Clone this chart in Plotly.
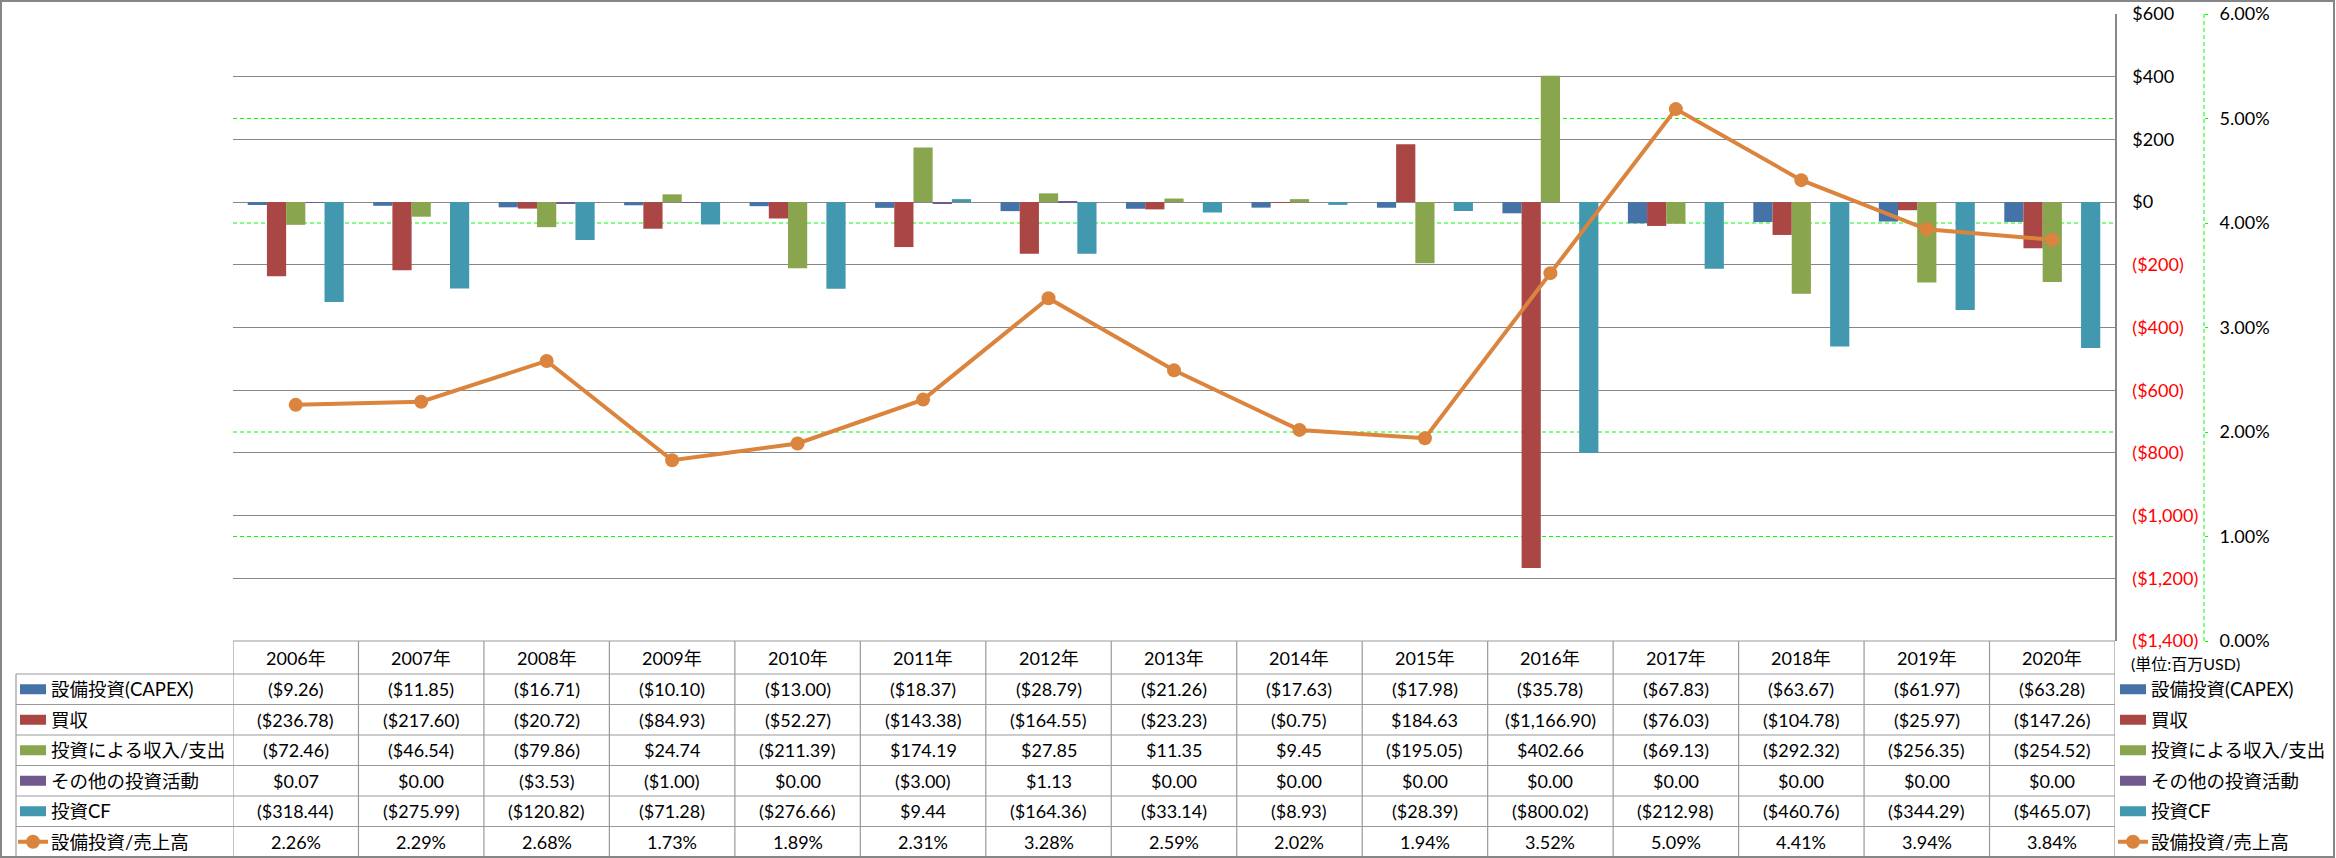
import plotly.graph_objects as go

years = ["2006年", "2007年", "2008年", "2009年", "2010年", "2011年", "2012年", "2013年",
         "2014年", "2015年", "2016年", "2017年", "2018年", "2019年", "2020年"]
capex = [-9.26, -11.85, -16.71, -10.10, -13.00, -18.37, -28.79, -21.26,
         -17.63, -17.98, -35.78, -67.83, -63.67, -61.97, -63.28]
acquisitions = [-236.78, -217.60, -20.72, -84.93, -52.27, -143.38, -164.55, -23.23,
                -0.75, 184.63, -1166.90, -76.03, -104.78, -25.97, -147.26]
invest_income = [-72.46, -46.54, -79.86, 24.74, -211.39, 174.19, 27.85, 11.35,
                 9.45, -195.05, 402.66, -69.13, -292.32, -256.35, -254.52]
other_invest = [0.07, 0.00, -3.53, -1.00, 0.00, -3.00, 1.13, 0.00,
                0.00, 0.00, 0.00, 0.00, 0.00, 0.00, 0.00]
invest_cf = [-318.44, -275.99, -120.82, -71.28, -276.66, 9.44, -164.36, -33.14,
             -8.93, -28.39, -800.02, -212.98, -460.76, -344.29, -465.07]
capex_ratio = [2.26, 2.29, 2.68, 1.73, 1.89, 2.31, 3.28, 2.59,
               2.02, 1.94, 3.52, 5.09, 4.41, 3.94, 3.84]  # percent

bar_names = ["設備投資(CAPEX)", "買収", "投資による収入/支出", "その他の投資活動", "投資CF"]
line_name = "設備投資/売上高"
unit_label = "(単位:百万USD)"
usd_ticks = list(range(-1400, 601, 200))

FONT = "Lato, 'Noto Sans CJK JP', sans-serif"
colors = ["#4572A7", "#AA4643", "#89A54E", "#71588F", "#4198AF"]
orange = "#DB843D"
grid_gray = "#878787"
line_gray = "#9a9a9a"

W, H = 2336, 858
L, R, T, B = 233, 2204, 14, 641   # paper area (y2 axis sits at the right edge)
PLOT_R = 2115                     # end of the bar area / primary axis


def xp(px):
    return (px - L) / (R - L)


def yp(py):
    return (B - py) / (B - T)


def money(v):
    s = f"${abs(v):,.2f}"
    return f"({s})" if v < 0 else s


def usd_tick(v):
    if v < 0:
        return f"<span style='color:#FF0000'>(${-v:,})</span>"
    return f"${v:,}"


series = [capex, acquisitions, invest_income, other_invest, invest_cf]

fig = go.Figure()
for name, vals, col in zip(bar_names, series, colors):
    fig.add_trace(go.Bar(x=years, y=vals, name=name, marker=dict(color=col, line_width=0)))

fig.add_trace(go.Scatter(
    x=years, y=[v / 100 for v in capex_ratio], name=line_name, yaxis="y2",
    mode="lines+markers", line=dict(color=orange, width=4),
    marker=dict(color=orange, size=14),
))

shapes = []
annotations = []

# secondary axis: dashed green axis line and dashed gridlines
shapes.append(dict(type="line", xref="paper", yref="paper", x0=1, x1=1, y0=0, y1=1,
                   line=dict(color="#00FF00", width=1, dash="4px,3px")))
for v in [0.01, 0.02, 0.04, 0.05]:
    shapes.append(dict(type="line", xref="paper", yref="y2", x0=0, x1=xp(PLOT_R), y0=v, y1=v,
                       layer="below", line=dict(color="#00FF00", width=1.2, dash="4px,3px")))

# data table
row_lines = [674, 704.5, 735, 765.5, 796, 826.5, 857]
row_centers = [(a + b) / 2 for a, b in zip(row_lines[:-1], row_lines[1:])]
header_center = (B + row_lines[0]) / 2

shapes.append(dict(type="line", xref="paper", yref="paper", x0=0, x1=xp(PLOT_R),
                   y0=yp(B), y1=yp(B), line=dict(color=line_gray, width=1.2)))
for y in row_lines:
    shapes.append(dict(type="line", xref="paper", yref="paper", x0=xp(16), x1=xp(PLOT_R),
                       y0=yp(y), y1=yp(y), line=dict(color=line_gray, width=1.2)))
for i in range(len(years) + 1):
    shapes.append(dict(type="line", xref="x", yref="paper", x0=i - 0.5, x1=i - 0.5,
                       y0=yp(B), y1=yp(857), line=dict(color=line_gray, width=1.2)))
shapes.append(dict(type="line", xref="paper", yref="paper", x0=xp(16), x1=xp(16),
                   y0=yp(674), y1=yp(857), line=dict(color=line_gray, width=1.2)))


def cell(x, xref, yc, text, size, xanchor="center"):
    annotations.append(dict(x=x, xref=xref, y=yp(yc), yref="paper", text=text,
                            xanchor=xanchor, yanchor="middle", showarrow=False,
                            font=dict(size=size)))


for yr in years:
    cell(yr, "x", header_center, yr, 18)

table_rows = [[money(v) for v in s] for s in series] + [[f"{v:.2f}%" for v in capex_ratio]]
for row, yc in zip(table_rows, row_centers):
    for yr, txt in zip(years, row):
        cell(yr, "x", yc, txt, 18)


def legend_key(x_left, yc, idx):
    if idx < len(colors):
        shapes.append(dict(type="rect", xref="paper", yref="paper",
                           x0=xp(x_left), x1=xp(x_left + 26), y0=yp(yc + 5), y1=yp(yc - 5),
                           fillcolor=colors[idx], line_width=0))
    else:
        shapes.append(dict(type="line", xref="paper", yref="paper",
                           x0=xp(x_left - 2), x1=xp(x_left + 28), y0=yp(yc), y1=yp(yc),
                           line=dict(color=orange, width=4)))
        shapes.append(dict(type="circle", xref="paper", yref="paper",
                           x0=xp(x_left + 6), x1=xp(x_left + 20), y0=yp(yc + 7), y1=yp(yc - 7),
                           fillcolor=orange, line_width=0))


all_names = bar_names + [line_name]
for idx, (name, yc) in enumerate(zip(all_names, row_centers)):
    legend_key(20, yc, idx)
    cell(xp(49), "paper", yc, name, 18.5, "left")
    legend_key(2120, yc, idx)
    cell(xp(2149), "paper", yc, name, 18.5, "left")

cell(xp(2129), "paper", 663, unit_label, 16, "left")

# outer chart border
shapes.append(dict(type="rect", xref="paper", yref="paper", x0=xp(1), x1=xp(2334),
                   y0=yp(857), y1=yp(1), line=dict(color="#868686", width=2)))

fig.update_layout(
    width=W, height=H,
    margin=dict(l=L, r=W - R, t=T, b=H - B, autoexpand=False),
    plot_bgcolor="white", paper_bgcolor="white",
    font=dict(family=FONT, size=18, color="black"),
    barmode="group", bargap=0.235, bargroupgap=0,
    showlegend=False,
    xaxis=dict(type="category", domain=[0, xp(PLOT_R)], range=[-0.5, len(years) - 0.5],
               showticklabels=False, showgrid=False, zeroline=False, ticks="",
               automargin=False),
    yaxis=dict(range=[-1400, 600], tickvals=usd_ticks, ticktext=[usd_tick(v) for v in usd_ticks],
               side="right", showline=True, linecolor=grid_gray, linewidth=1.5,
               showgrid=True, gridcolor=grid_gray, gridwidth=1.3, zeroline=False,
               ticks="", ticklabelstandoff=12, tickfont=dict(size=18), automargin=False),
    yaxis2=dict(overlaying="y", anchor="free", position=1, side="right",
                range=[0, 0.06], dtick=0.01, tickformat=".2%",
                showgrid=False, zeroline=False, showline=False,
                ticks="outside", ticklen=3, tickcolor="#00FF00",
                ticklabelstandoff=8, tickfont=dict(size=18), automargin=False),
    shapes=shapes,
    annotations=annotations,
)

fig.write_html("out.html", config={"displayModeBar": False},
               post_script="document.body.style.margin='0';document.body.style.overflow='hidden';")
